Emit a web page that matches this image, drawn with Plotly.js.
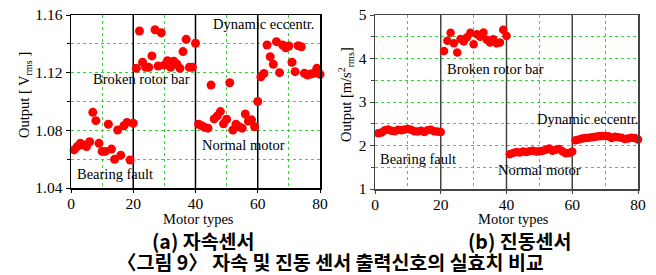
<!DOCTYPE html>
<html><head><meta charset="utf-8">
<script src="https://cdn.plot.ly/plotly-3.0.1.min.js"></script>
<style>html,body{margin:0;padding:0;background:#fff}#c{width:656px;height:275px}</style>
</head><body><div id="c"></div>
<script>
const motorIdx = Array.from({length:80},(_,i)=>i+1);
const fluxOutput = [
 1.0664,1.0687,1.0710,1.0698,1.0687,1.0721,1.0925,1.0867,1.0710,1.0654,
 1.0654,1.0842,1.0670,1.0599,1.0802,1.0628,1.0832,1.0855,1.0594,1.0849,
 1.1230,1.1489,1.1272,1.1237,1.1237,1.1316,1.1498,1.1246,1.1477,1.1253,
 1.1283,1.1237,1.1280,1.1260,1.1230,1.1346,1.1431,1.1237,1.1237,1.1404,
 1.0842,1.0832,1.0820,1.0815,1.1114,1.0879,1.0900,1.0930,1.0845,1.0877,
 1.1130,1.0802,1.0842,1.0825,1.0815,1.0913,1.0865,1.0873,1.0825,1.1000,
 1.1172,1.1195,1.1392,1.1311,1.1258,1.1415,1.1200,1.1392,1.1373,1.1385,
 1.1272,1.1207,1.1387,1.1380,1.1196,1.1184,1.1190,1.1196,1.1230,1.1189];
const vibOutput = [
 2.28,2.30,2.35,2.37,2.34,2.33,2.36,2.35,2.37,2.38,
 2.36,2.33,2.32,2.34,2.31,2.35,2.36,2.33,2.32,2.31,
 4.17,4.41,4.59,4.35,4.14,4.45,4.39,4.49,4.59,4.33,
 4.56,4.50,4.60,4.43,4.37,4.44,4.35,4.37,4.66,4.52,
 1.80,1.83,1.85,1.84,1.86,1.85,1.87,1.88,1.86,1.87,
 1.88,1.90,1.93,1.88,1.90,1.92,1.87,1.82,1.83,1.86,
 2.12,2.14,2.16,2.17,2.18,2.19,2.20,2.21,2.22,2.22,
 2.21,2.17,2.20,2.19,2.18,2.15,2.16,2.18,2.17,2.14];
const separators = [20,40,60];
const fluxRange = [1.04,1.16];
const vibRange = [1,5];
const groupLabels = ['Bearing fault','Broken rotor bar','Normal motor','Dynamic eccentr.'];
const fluxLabelPos = [[14,1.0497],[22.5,1.1156],[55.4,1.0698],[62,1.1535]];
const vibLabelPos = [[13.1,1.69],[36.8,3.76],[50,1.437],[64.5,2.61]];
const xTitle = 'Motor types';
const yTitles = ['Output [ V<sub>rms</sub> ]','Output [m/s<sup>2</sup><sub>rms</sub>]'];
const captions = ['(a) 자속센서','(b) 진동센서','〈그림 9〉 자속 및 진동 센서 출력신호의 실효치 비교'];

const W=656,H=275;
const serif = 'Liberation Serif, Times New Roman, serif';
const kr = 'Noto Sans CJK KR, sans-serif';
const GC = '#33dd33';
function xa(dom, anchor, lc){
  return {domain:dom, anchor:anchor, range:[0,80], dtick:20, tick0:0,
    ticks:'outside', ticklen:3, tickcolor:lc, showline:true, linecolor:lc, linewidth:1.5, mirror:true,
    zeroline:false, tickfont:{family:serif,size:15.5,color:'#000'}, ticklabelstandoff:-2,
    showgrid:true, gridcolor:GC, griddash:'dot', gridwidth:1,
    minor:{dtick:10, showgrid:true, gridcolor:GC, griddash:'dot', ticks:''}};
}
function ya(dom, anchor, lc, rng, dt, mdt, fmt){
  return {domain:dom, anchor:anchor, range:rng, dtick:dt, tick0:rng[0],
    ticks:'outside', ticklen:4, tickcolor:lc, showline:true, linecolor:lc, linewidth:1.5, mirror:true,
    zeroline:false, tickformat:fmt, tickfont:{family:serif,size:15.5,color:'#000'},
    showgrid:true, gridcolor:GC, griddash:'dot', gridwidth:1,
    minor:{dtick:mdt, showgrid:true, gridcolor:GC, griddash:'dot', ticks:'outside', ticklen:3, tickcolor:lc}};
}
const traces = [];
separators.forEach(s=>{
  traces.push({x:[s,s], y:fluxRange, xaxis:'x', yaxis:'y', mode:'lines', type:'scatter', line:{color:'#000', width:1.5}, hoverinfo:'skip'});
  traces.push({x:[s,s], y:vibRange, xaxis:'x2', yaxis:'y2', mode:'lines', type:'scatter', line:{color:'#444', width:1.5}, hoverinfo:'skip'});
});
traces.push({x:motorIdx, y:fluxOutput, xaxis:'x', yaxis:'y', mode:'markers', type:'scatter',
   marker:{color:'#ff0000', size:9}, cliponaxis:false});
traces.push({x:motorIdx, y:vibOutput, xaxis:'x2', yaxis:'y2', mode:'markers', type:'scatter',
   marker:{color:'#ff0000', size:8.5}, cliponaxis:false});

const annotations = [];
const af = {family:serif,size:14.5,color:'#000'};
groupLabels.forEach((t,i)=>{
  annotations.push({text:t, xref:'x', yref:'y', x:fluxLabelPos[i][0], y:fluxLabelPos[i][1], xanchor:'center', yanchor:'middle', showarrow:false, font:af});
  annotations.push({text:t, xref:'x2', yref:'y2', x:vibLabelPos[i][0], y:vibLabelPos[i][1], xanchor:'center', yanchor:'middle', showarrow:false, font:af});
});
annotations.push({text:xTitle, xref:'paper', yref:'paper', x:198/W, y:1-219/H, xanchor:'center', yanchor:'middle', showarrow:false, font:af});
annotations.push({text:xTitle, xref:'paper', yref:'paper', x:513/W, y:1-219/H, xanchor:'center', yanchor:'middle', showarrow:false, font:af});
annotations.push({text:yTitles[0], xref:'paper', yref:'paper', x:25/W, y:1-95/H, xanchor:'center', yanchor:'middle', textangle:-90, showarrow:false, font:af});
annotations.push({text:yTitles[1], xref:'paper', yref:'paper', x:346/W, y:1-95/H, xanchor:'center', yanchor:'middle', textangle:-90, showarrow:false, font:af});
const cf = {family:kr,size:19.5,color:'#000'};
annotations.push({text:'<b>'+captions[0]+'</b>', xref:'paper', yref:'paper', x:203/W, y:1-240/H, xanchor:'center', yanchor:'middle', showarrow:false, font:cf});
annotations.push({text:'<b>'+captions[1]+'</b>', xref:'paper', yref:'paper', x:520/W, y:1-240/H, xanchor:'center', yanchor:'middle', showarrow:false, font:cf});
annotations.push({text:'<b>'+captions[2]+'</b>', xref:'paper', yref:'paper', x:331/W, y:1-261/H, xanchor:'center', yanchor:'middle', showarrow:false, font:cf});

const layout = {
  width:W, height:H, margin:{l:0,r:0,t:0,b:0}, showlegend:false,
  paper_bgcolor:'#fff', plot_bgcolor:'#fff',
  xaxis: xa([71/W,320/W],'y','#000'),
  yaxis: ya([1-188/H,1-15/H],'x','#000',fluxRange,0.04,0.02,'.2f'),
  xaxis2: xa([375/W,638/W],'y2','#444'),
  yaxis2: ya([1-189/H,1-15/H],'x2','#444',vibRange,1,0.5,'d'),
  annotations:annotations
};
Plotly.newPlot('c', traces, layout, {staticPlot:true, displayModeBar:false});
</script></body></html>
